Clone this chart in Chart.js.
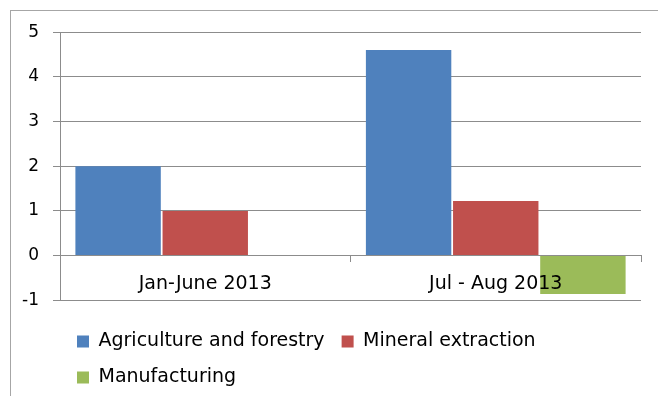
<!DOCTYPE html>
<html>
<head>
<meta charset="utf-8">
<script src="https://cdn.jsdelivr.net/npm/chart.js@4/dist/chart.umd.min.js"></script>
<style>
  html, body { margin: 0; padding: 0; background: #fff; overflow: hidden; }
  #frame {
    position: absolute; left: 10px; top: 10px; width: 660px; height: 400px;
    border-left: 1px solid #a6a6a6; border-top: 1px solid #a6a6a6;
  }
  #chart { position: absolute; left: 1px; top: -3px; }
</style>
</head>
<body>
<div id="frame"><canvas id="chart" width="646" height="389"></canvas></div>
<script>
const categories = ["Jan-June 2013", "Jul - Aug 2013"];
const agriculture = [2.0, 4.6];
const mineral = [1.0, 1.22];
const manufacturing = [0, -0.86];
const yTicks = [-1, 0, 1, 2, 3, 4, 5];

const gray = "#8c8c8c";
const font = { family: "DejaVu Sans", size: 19 };

new Chart(document.getElementById("chart"), {
  type: "bar",
  data: {
    labels: categories,
    datasets: [
      { label: "Agriculture and forestry", data: agriculture, backgroundColor: "#4f81bd" },
      { label: "Mineral extraction", data: mineral, backgroundColor: "#c0504d" },
      { label: "Manufacturing", data: manufacturing, backgroundColor: "#9bbb59" }
    ]
  },
  options: {
    responsive: false,
    animation: false,
    categoryPercentage: 0.9,
    barPercentage: 0.98,
    layout: { padding: { top: 16, right: 17, left: 0, bottom: 0 } },
    scales: {
      x: {
        position: { y: 0 },
        grid: { drawOnChartArea: false, drawTicks: true, tickLength: 6, color: gray },
        border: { color: gray },
        ticks: { color: "#000", font, padding: 11, z: 1 }
      },
      y: {
        min: yTicks[0],
        max: yTicks[yTicks.length - 1],
        afterFit: s => { s.width = 48; },
        afterBuildTicks: s => { s.ticks = yTicks.map(v => ({ value: v })); },
        grid: { color: gray, tickLength: 7 },
        border: { color: gray },
        ticks: { color: "#000", font: { family: "DejaVu Sans", size: 17 }, padding: 14 }
      }
    },
    plugins: {
      tooltip: { enabled: false },
      legend: {
        position: "bottom",
        align: "start",
        fullSize: false,
        title: { display: true, text: " ", font: { size: 1 }, padding: { top: 13.5, bottom: 0 } },
        labels: { boxWidth: 12, boxHeight: 12, padding: 17, color: "#000", font }
      }
    }
  }
});
</script>
</body>
</html>
